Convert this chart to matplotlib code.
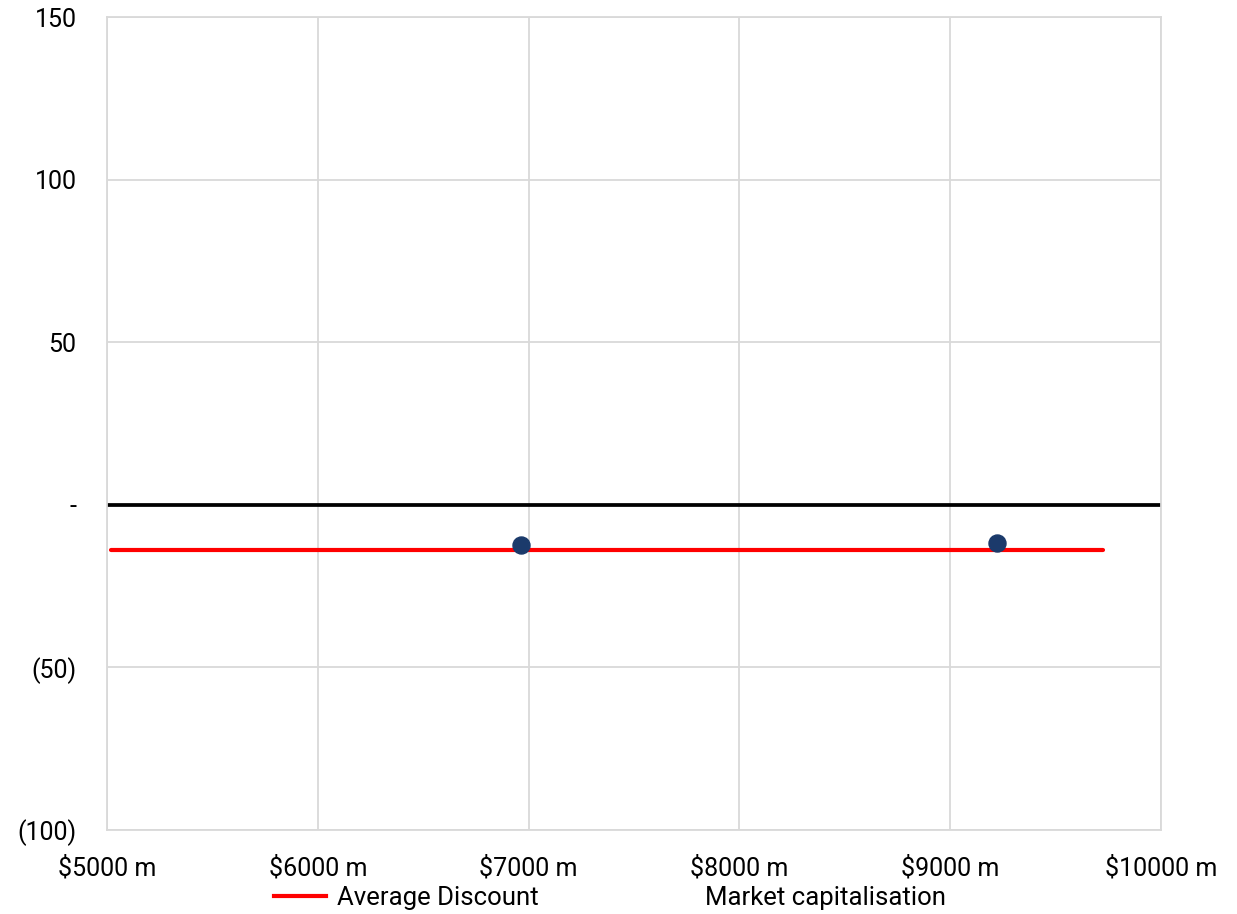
import numpy as np
import matplotlib.pyplot as plt
from matplotlib.lines import Line2D

plt.rcParams['font.family'] = ['Roboto', 'DejaVu Sans']

# market cap ($m) vs discount
mcap = [6965, 9222]
discount = [-12.3, -11.7]

avg_x = [5020, 9725]
avg_discount = [-13.8, -13.8]

xticks = [5000, 6000, 7000, 8000, 9000, 10000]
xlabels = ["$5000 m", "$6000 m", "$7000 m", "$8000 m", "$9000 m", "$10000 m"]
yticks = [-100, -50, 0, 50, 100, 150]
ylabels = ["(100)", "(50)", "-", "50", "100", "150"]

fig = plt.figure(figsize=(12.37, 9.14), dpi=100)
ax = fig.add_axes([0.0865, 0.0919, 0.8521, 0.8895])

ax.plot(avg_x, avg_discount, color="#ff0000", lw=3, solid_capstyle="round", zorder=3)
ax.axhline(0, color="black", lw=2.7, zorder=2)
ax.scatter(mcap, discount, s=150, color="#1b3a6b", zorder=4)

ax.set_xlim(5000, 10000)
ax.set_ylim(-100, 150)
ax.set_xticks(xticks)
ax.set_xticklabels(xlabels)
ax.set_yticks(yticks)
ax.set_yticklabels(ylabels)
ax.tick_params(axis="both", length=0, labelsize=18)
ax.tick_params(axis="y", pad=22)
ax.tick_params(axis="x", pad=19)
ax.grid(True, color="#d9d9d9", lw=1.3)
ax.set_axisbelow(True)
for s in ax.spines.values():
    s.set_color("#d9d9d9")
    s.set_linewidth(1.3)

handles = [Line2D([], [], color="#ff0000", lw=3),
           Line2D([], [], color="none")]
fig.legend(handles, ["Average Discount", "Market capitalisation"], loc="center",
           bbox_to_anchor=(0.493, 0.0175), ncol=2, frameon=False, fontsize=18.5,
           handlelength=2.0, handletextpad=0.45, columnspacing=4.0)

fig.savefig("out.png", dpi=100)
